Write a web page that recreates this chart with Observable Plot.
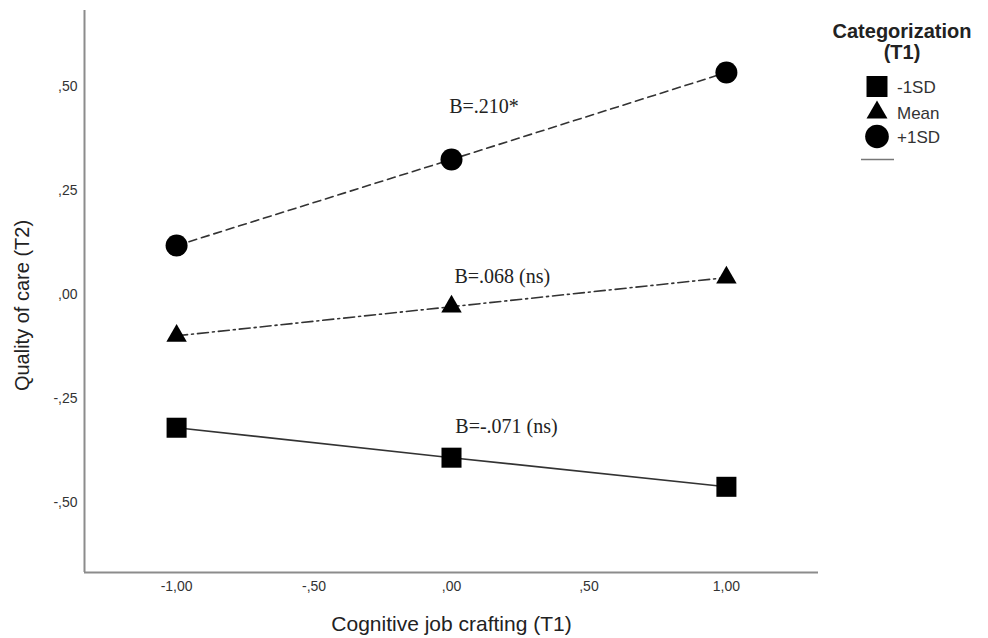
<!DOCTYPE html>
<html>
<head>
<meta charset="utf-8">
<script src="https://cdn.jsdelivr.net/npm/d3@7"></script>
<script src="https://cdn.jsdelivr.net/npm/@observablehq/plot@0.6"></script>
<style>
  body { margin: 0; background: #fff; }
  #wrap { position: relative; width: 988px; height: 638px; font-family: "Liberation Sans", Arial, sans-serif; }
  #legend { position: absolute; left: 820px; top: 21px; width: 164px; }
</style>
</head>
<body>
<div id="wrap"><div id="legend"></div></div>
<script>
// Data
const groups = ["-1SD", "Mean", "+1SD"];
const xValues = [-1, 0, 1];
const lowValues  = [-0.320, -0.392, -0.462];
const meanValues = [-0.099, -0.029, 0.041];
const highValues = [0.118, 0.325, 0.534];
const xTicks = [-1, -0.5, 0, 0.5, 1];
const yTicks = [-0.5, -0.25, 0, 0.25, 0.5];
const xDomain = [-1.335, 1.335];
const yDomain = [-0.668, 0.683];
const annotations = ["B=.210*", "B=.068 (ns)", "B=-.071 (ns)"];
const annotX = [0.118, 0.185, 0.2];
const annotY = [0.452, 0.043, -0.317];

const seriesValues = {"-1SD": lowValues, "Mean": meanValues, "+1SD": highValues};
const table = groups.flatMap(g => xValues.map((x, i) => ({group: g, x, y: seriesValues[g][i]})));
const annotTable = annotations.map((t, i) => ({text: t, x: annotX[i], y: annotY[i]}));

const fmt = v => d3.format(".2f")(v).replace("\u2212", "-").replace(".", ",").replace(/^(-?)0,/, "$1,");

const styles = {
  "-1SD": {symbol: "square", r: 11.3, dash: null},
  "Mean": {symbol: "triangle", r: 7.6, dash: "11,4,2,4"},
  "+1SD": {symbol: "circle", r: 11, dash: "8,5"}
};

const marks = [
  Plot.ruleX([xDomain[0]], {stroke: "#8c8c8c", strokeWidth: 2}),
  Plot.ruleY([yDomain[0]], {stroke: "#8c8c8c", strokeWidth: 2}),
];
for (const g of groups) {
  const d = table.filter(r => r.group === g);
  marks.push(Plot.line(d, {x: "x", y: "y", stroke: "#333", strokeWidth: 1.6, strokeDasharray: styles[g].dash}));
}
for (const g of groups) {
  const d = table.filter(r => r.group === g);
  marks.push(Plot.dot(d, {x: "x", y: "y", symbol: () => styles[g].symbol, r: styles[g].r, fill: "#000", stroke: "none"}));
}
marks.push(
  Plot.text(annotTable, {x: "x", y: "y", text: "text", fontFamily: "Liberation Serif, Times New Roman, serif", fontSize: 20, fill: "#222"}),
  Plot.axisX(xTicks, {tickSize: 0, tickPadding: 9, tickFormat: fmt, label: null, fill: "#333", fontSize: 14}),
  Plot.axisY(yTicks, {tickSize: 0, tickPadding: 7, tickFormat: fmt, label: null, fill: "#333", fontSize: 14}),
  Plot.text(["Cognitive job crafting (T1)"], {frameAnchor: "bottom", textAnchor: "middle", dy: 58, fontSize: 21, fill: "#222"}),
  Plot.text(["Quality of care (T2)"], {frameAnchor: "left", textAnchor: "middle", dx: -62, dy: 14, rotate: -90, fontSize: 20, fill: "#222"})
);

const chart = Plot.plot({
  width: 988,
  height: 638,
  marginLeft: 84,
  marginRight: 170,
  marginTop: 10,
  marginBottom: 66,
  style: {fontFamily: "Liberation Sans, Arial, sans-serif", background: "#fff"},
  x: {domain: xDomain},
  y: {domain: yDomain},
  symbol: {domain: ["square", "triangle", "circle"], range: ["square", "triangle", "circle"]},
  marks
});
// make sure tick labels render at 14px
d3.select(chart).selectAll("g[aria-label$='tick label']").attr("font-size", 14).style("font-size", "14px");
document.getElementById("wrap").prepend(chart);
chart.style.position = "absolute";
chart.style.left = "0";
chart.style.top = "0";

// Legend
const lg = d3.select("#legend");
lg.append("div")
  .style("text-align", "center").style("font-weight", "bold").style("font-size", "20px")
  .style("line-height", "21px").style("color", "#222")
  .html("Categorization<br>(T1)");
const ls = lg.append("svg").attr("width", 164).attr("height", 110).style("display", "block");
const legendRows = [
  {g: "-1SD", shape: d3.symbolSquare, size: 440, cy: 23.5},
  {g: "Mean", shape: d3.symbolTriangle, size: 190, cy: 49.5},
  {g: "+1SD", shape: d3.symbolCircle, size: 440, cy: 73.5}
];
legendRows.forEach(row => {
  ls.append("path").attr("d", d3.symbol(row.shape, row.size)()).attr("transform", `translate(57,${row.cy})`).attr("fill", "#000");
  ls.append("text").attr("x", 77).attr("y", row.cy + 6).attr("font-size", 17).attr("fill", "#333")
    .attr("font-family", "Liberation Sans, Arial, sans-serif").text(row.g);
});
ls.append("line").attr("x1", 41).attr("x2", 74).attr("y1", 96.5).attr("y2", 96.5).attr("stroke", "#777").attr("stroke-width", 1.5);
</script>
</body>
</html>
